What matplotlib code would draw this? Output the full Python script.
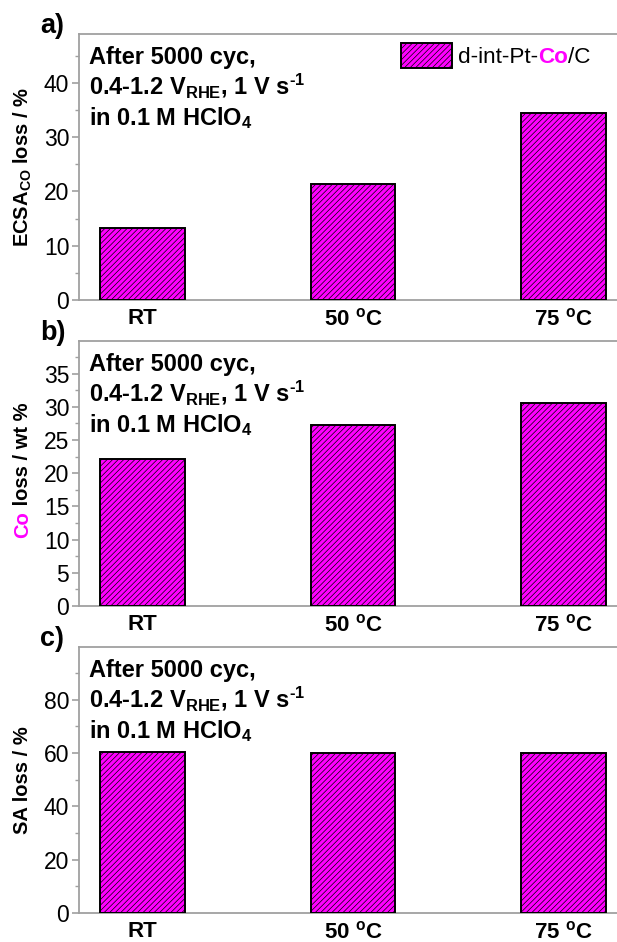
import matplotlib
matplotlib.use('Agg')
import matplotlib.pyplot as plt
from matplotlib.patches import Rectangle
from matplotlib.ticker import MultipleLocator, AutoMinorLocator
from matplotlib.transforms import blended_transform_factory
import numpy as np

plt.rcParams['font.family'] = 'Liberation Sans'
plt.rcParams['mathtext.fontset'] = 'custom'
plt.rcParams['mathtext.rm'] = 'Liberation Sans'
plt.rcParams['mathtext.bf'] = 'Liberation Sans:bold'
plt.rcParams['mathtext.it'] = 'Liberation Sans:italic'
plt.rcParams['hatch.linewidth'] = 0.5
plt.rcParams['hatch.color'] = '#303030'

categories = ['RT', r'50 $^\mathbf{o}$C', r'75 $^\mathbf{o}$C']
ecsa_loss = [13.2, 21.3, 34.4]
co_loss = [22.1, 27.2, 30.6]
sa_loss = [60.2, 59.8, 59.8]

conditions = ['After 5000 cyc,',
              '0.4-1.2 V$_\\mathbf{RHE}$, 1 V s$^\\mathbf{\u20101}$',
              r'in 0.1 M HClO$_\mathbf{4}$']

MAG = '#ff00ff'
SPINE = '#a0a0a0'
W, H = 617, 942

fig = plt.figure(figsize=(W / 100, H / 100), dpi=100)

# axes boxes in pixels: left, top, right, bottom
boxes = [(79, 34, 625, 300), (79, 341, 625, 606), (79, 647, 625, 913)]
panels = [('a)', ecsa_loss, 49.0, 10),
          ('b)', co_loss, 39.9, 5),
          ('c)', sa_loss, 99.7, 20)]

x = np.arange(len(categories))
axes = []
for (l, t, r, b), (tag, vals, ytop, step) in zip(boxes, panels):
    ax = fig.add_axes([l / W, 1 - b / H, (r - l) / W, (b - t) / H])
    ax.bar(x, vals, width=0.4, color=MAG, edgecolor='black', linewidth=1.4,
           hatch='//////', zorder=3)
    ax.set_xlim(-0.302, 2.292)
    ax.set_ylim(0, ytop)
    ax.yaxis.set_major_locator(MultipleLocator(step))
    ax.yaxis.set_minor_locator(AutoMinorLocator(2))
    ax.set_xticks(x)
    ax.set_xticklabels(categories, fontweight='bold', fontsize=16)
    ax.tick_params(axis='x', length=0, pad=6)
    ax.tick_params(axis='y', which='major', length=5, width=1.2, color=SPINE,
                   labelsize=16.5, pad=2)
    ax.tick_params(axis='y', which='minor', length=3, width=1.0, color=SPINE)
    for s in ['left', 'top', 'bottom']:
        ax.spines[s].set_color(SPINE)
        ax.spines[s].set_linewidth(1.3)
    ax.spines['right'].set_visible(False)

    # condition text block
    hpx = b - t
    for line, d in zip(conditions, [30, 60, 91]):
        ax.text((89 - l) / (r - l), 1 - d / hpx, line, transform=ax.transAxes,
                fontsize=17, fontweight='bold', va='baseline', ha='left')

    # panel tag
    fig.text(40 / W, 1 - (t - 1) / H, tag, fontsize=19.5, fontweight='bold',
             va='baseline', ha='left')
    axes.append(ax)

# y labels
ylab_tr = [blended_transform_factory(fig.transFigure, ax.transAxes) for ax in axes]
axes[0].text(23 / W, 0.5, r'ECSA$_\mathbf{CO}$ loss / %', transform=ylab_tr[0],
             rotation=90, fontsize=14.5, fontweight='bold', ha='center', va='center')
axes[2].text(23 / W, 0.5, 'SA loss / %', transform=ylab_tr[2],
             rotation=90, fontsize=14.5, fontweight='bold', ha='center', va='center')
t1 = axes[1].text(23 / W, 0.5 - 64 / 265, 'Co', transform=ylab_tr[1], color=MAG,
                  rotation=90, fontsize=14.5, fontweight='bold', ha='center', va='bottom')
axes[1].annotate(' loss / wt %', xy=(0.5, 1), xycoords=t1, rotation=90,
                 fontsize=14.5, fontweight='bold', ha='center', va='bottom')

# legend (drawn by hand for the two-colour label)
ax = axes[0]
l, t, r, b = boxes[0]
px = lambda xp, yp: ((xp - l) / (r - l), 1 - (yp - t) / (b - t))
x0, y0 = px(401, 68)
x1, y1 = px(452, 43)
ax.add_patch(Rectangle((x0, y0), x1 - x0, y1 - y0, transform=ax.transAxes,
                       facecolor=MAG, edgecolor='black', linewidth=1.4,
                       hatch='//////', zorder=4))
tx, ty = px(458, 68)
l1 = ax.text(tx, ty, 'd-int-Pt-', transform=ax.transAxes, fontsize=16.2,
             va='bottom', ha='left')
l2 = ax.annotate('Co', xy=(1, 0), xycoords=l1, fontsize=16.2, color=MAG,
                 fontweight='bold', va='bottom', ha='left')
ax.annotate('/C', xy=(1, 0), xycoords=l2, fontsize=16.2, va='bottom', ha='left')

fig.savefig('out.png', dpi=100)
